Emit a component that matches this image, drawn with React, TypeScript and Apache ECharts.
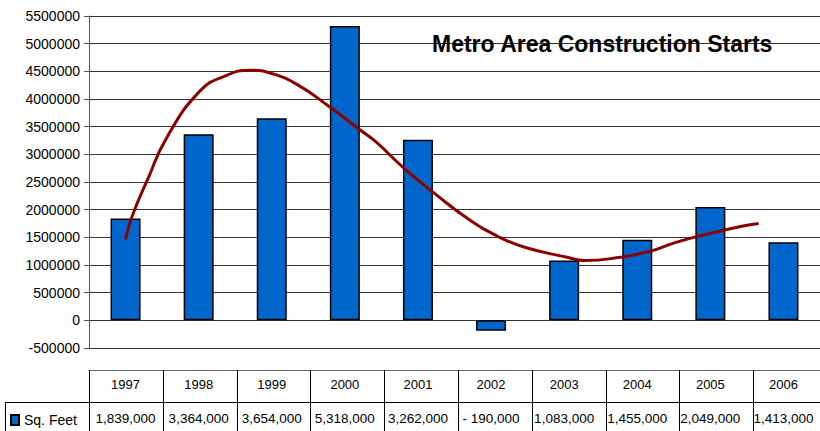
import React, { useEffect, useRef } from "react";
import * as echarts from "echarts";

const years = ["1997", "1998", "1999", "2000", "2001", "2002", "2003", "2004", "2005", "2006"];
const sqFeet = [1839000, 3364000, 3654000, 5318000, 3262000, -190000, 1083000, 1455000, 2049000, 1413000];
const trendYears = [1997.0, 1997.09, 1997.32, 1997.55, 1998.0, 1998.35, 1998.72, 1999.0, 1999.35, 1999.8, 2000.2, 2000.43, 2000.8, 2001.24, 2001.69, 2002.09, 2002.46, 2003.04, 2003.27, 2003.77, 2004.18, 2004.53, 2004.93, 2005.43, 2005.66];
const trendValues = [1460000, 1880000, 2600000, 3270000, 4120000, 4410000, 4520000, 4460000, 4260000, 3850000, 3450000, 3220000, 2760000, 2280000, 1830000, 1520000, 1320000, 1140000, 1080000, 1140000, 1250000, 1410000, 1550000, 1700000, 1750000];
const yTicks = { min: -500000, max: 5500000, interval: 500000 };
const title = "Metro Area Construction Starts";
const seriesName = "Sq. Feet";

const fmt = (v: number) => (v < 0 ? "- " : "") + Math.abs(v).toLocaleString("en-US");

export default function App() {
  const ref = useRef<HTMLDivElement>(null);
  useEffect(() => {
    if (!ref.current) return;
    const chart = echarts.init(ref.current, null, { renderer: "svg" });
    const L = 89, T = 16, W = 738, H = 332;
    const colW = W / years.length;
    const rowTop = 370, rowMid = 402, rowBot = 434;
    const lineStyle = { stroke: "#000", lineWidth: 1 };
    const tableLines: any[] = [];
    tableLines.push({ type: "line", shape: { x1: L, y1: rowTop + 0.5, x2: L + W, y2: rowTop + 0.5 }, style: { stroke: "#666", lineWidth: 1 } });
    tableLines.push({ type: "line", shape: { x1: 5, y1: rowMid + 0.5, x2: L + W, y2: rowMid + 0.5 }, style: lineStyle });
    tableLines.push({ type: "line", shape: { x1: 5.5, y1: rowMid, x2: 5.5, y2: rowBot }, style: lineStyle });
    for (let i = 0; i <= years.length; i++) {
      const x = Math.round(L + i * colW) + 0.5;
      tableLines.push({ type: "line", shape: { x1: x, y1: rowTop, x2: x, y2: rowBot }, style: lineStyle });
    }
    const font = "Liberation Sans, Arial, sans-serif";
    chart.setOption({
      animation: false,
      textStyle: { fontFamily: font },
      grid: { left: L, top: T, width: W, height: H, containLabel: false },
      legend: {
        data: [seriesName],
        left: 10,
        top: 413,
        padding: 0,
        icon: "rect",
        itemWidth: 8,
        itemHeight: 10,
        itemGap: 4,
        textStyle: { fontSize: 14, color: "#000", fontFamily: font },
      },
      graphic: [
        ...tableLines,
        {
          type: "text",
          left: 432,
          top: 32,
          z: 10,
          style: { text: title, font: `bold 23px ${font}`, fill: "#000" },
        },
      ],
      xAxis: [
        {
          type: "category",
          data: years,
          position: "bottom",
          axisLine: { show: false },
          axisTick: { show: false },
          axisLabel: { margin: 30, fontSize: 13, color: "#000", fontFamily: font },
        },
        {
          type: "category",
          data: sqFeet.map(fmt),
          position: "bottom",
          axisLine: { show: false },
          axisTick: { show: false },
          axisLabel: { margin: 63, fontSize: 13.5, color: "#000", fontFamily: font, interval: 0 },
        },
        {
          type: "value",
          min: 1996.5,
          max: 2006.5,
          show: false,
        },
      ],
      yAxis: {
        type: "value",
        min: yTicks.min,
        max: yTicks.max,
        interval: yTicks.interval,
        axisLine: { show: true, onZero: false, lineStyle: { color: "#555" } },
        axisTick: { show: true, length: 5, lineStyle: { color: "#555" } },
        axisLabel: {
          margin: 9,
          fontSize: 14,
          color: "#000",
          fontFamily: font,
          formatter: (v: number) => (v < 0 ? "-" + Math.abs(v) : String(v)),
        },
        splitLine: { show: true, lineStyle: { color: "#333", width: 1 } },
      },
      series: [
        {
          name: seriesName,
          type: "bar",
          xAxisIndex: 0,
          data: sqFeet,
          barWidth: 30,
          itemStyle: { color: "#0066CC", borderColor: "#000", borderWidth: 1.5 },
        },
        {
          name: "Trend",
          type: "line",
          xAxisIndex: 2,
          data: trendYears.map((y, i) => [y, trendValues[i]]),
          smooth: true,
          symbol: "none",
          lineStyle: { color: "#8B0000", width: 3 },
          z: 5,
        },
      ],
    });
    return () => chart.dispose();
  }, []);
  return <div ref={ref} style={{ position: "absolute", left: 0, top: 0, width: 820, height: 431 }} />;
}
